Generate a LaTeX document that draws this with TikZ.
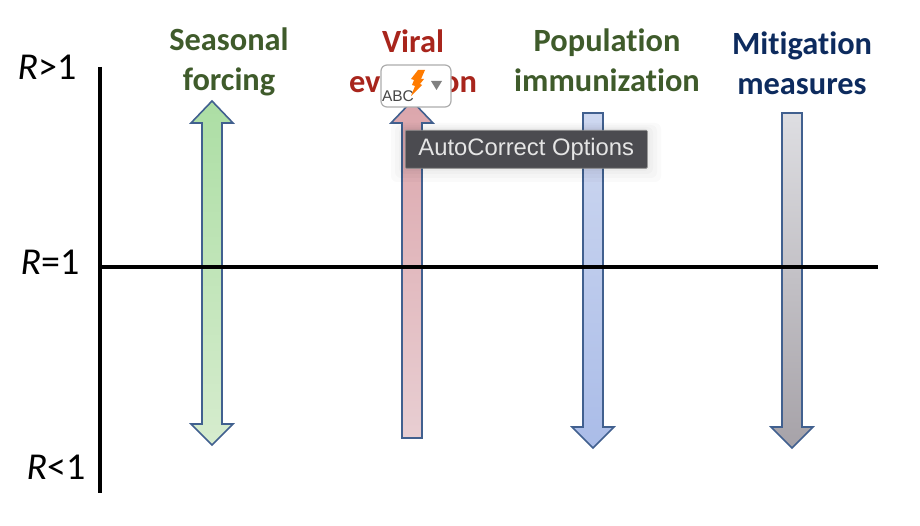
\documentclass[tikz,border=0pt]{standalone}
\usepackage{fontspec}
\setmainfont[Ligatures=NoCommon]{Carlito}
\newfontfamily\uifont{Liberation Sans}
\usetikzlibrary{calc}
\definecolor{edgeblue}{HTML}{41608F}
\definecolor{dgreen}{HTML}{3F5B2B}
\definecolor{dred}{HTML}{A8251C}
\definecolor{dnavy}{HTML}{0D2B5E}
\definecolor{tipgrey}{HTML}{4B4B50}
\tikzset{
  x=1pt,y=-1pt,
  axisline/.style={line width=4.4pt,black},
  arrowbody/.style={draw=edgeblue,line width=1.6pt,line join=miter},
  headlabel/.style={font=\fontsize{32.4}{40}\selectfont\bfseries,align=center,inner sep=0pt},
  rlabel/.style={font=\fontsize{38}{40}\selectfont,inner sep=0pt},
}
\begin{document}
\begin{tikzpicture}
\useasboundingbox (0,0) rectangle (920,526);
\fill[white] (0,0) rectangle (920,526);
% axes
\coordinate (axT) at (100,67); \coordinate (axB) at (100,493);
\coordinate (hzL) at (102,267); \coordinate (hzR) at (878,267);
\draw[axisline] (axT) -- (axB);
% arrows
\path[arrowbody,shade,top color={rgb,255:red,172;green,222;blue,164},bottom color={rgb,255:red,214;green,236;blue,206}]
  (212,101) -- (233,123) -- (222,123) -- (222,424) -- (233,424) -- (212,445) -- (191,424) -- (202,424) -- (202,123) -- (191,123) -- cycle;
\path[arrowbody,shade,top color={rgb,255:red,220;green,166;blue,172},bottom color={rgb,255:red,232;green,206;blue,210}]
  (412,101) -- (433,123) -- (422,123) -- (422,438) -- (402,438) -- (402,123) -- (391,123) -- cycle;
\path[arrowbody,shade,top color={rgb,255:red,206;green,216;blue,240},bottom color={rgb,255:red,170;green,188;blue,232}]
  (583,113) -- (603,113) -- (603,427) -- (614,427) -- (593,448) -- (572,427) -- (583,427) -- cycle;
\path[arrowbody,shade,top color={rgb,255:red,222;green,222;blue,226},bottom color={rgb,255:red,166;green,162;blue,168}]
  (782,113) -- (802,113) -- (802,427) -- (813,427) -- (792,448) -- (771,427) -- (782,427) -- cycle;
\draw[axisline] (hzL) -- (hzR);
% labels
\node[rlabel] (r1) at (47,67) {\textit{R}>1};
\node[rlabel] (r2) at (50,262) {\textit{R}=1};
\node[rlabel] (r3) at (56,467) {\textit{R}<1};
\node[headlabel,text=dgreen] (l1) at (229,61.5) {Seasonal\\forcing};
\node[headlabel,text=dred] (l2) at (413,61) {Viral\\evolution};
\node[headlabel,text=dgreen] (l3) at (607,60.5) {Population\\immunization};
\node[headlabel,text=dnavy] (l4) at (802,63) {Mitigation\\measures};
% tooltip shadow
\foreach \g in {14,10,6,3}{
  \fill[black,opacity=0.02,rounded corners=6pt] (405-\g,130-\g*0.5) rectangle (647+\g,168+\g);
}
% autocorrect badge
\draw[draw=black!32,fill=white,line width=1.2pt,rounded corners=6pt] (381,65) rectangle (451,107);
\node[inner sep=0pt,text=black!72,font=\uifont\fontsize{15.5}{15.5}\selectfont] (abc) at (398,96) {ABC};
\fill[orange!85!red!90!yellow] (418,70) -- (425,70) -- (421,79) -- (424,79) -- (420,84) -- (422,85) -- (411,96) -- (415,86) -- (412,85) -- (414,80) -- (411,79) -- cycle;
\fill[black!50] (431,81) -- (442,81) -- (436.5,90) -- cycle;
% tooltip
\node[draw=black!45,fill=tipgrey,line width=0.6pt,minimum width=242pt,minimum height=38pt,inner sep=0pt,rounded corners=1pt,anchor=north west,text=white!90!black,font=\uifont\fontsize{23.8}{24}\selectfont] (tip) at (405,130) {AutoCorrect Options};
\end{tikzpicture}
\end{document}
